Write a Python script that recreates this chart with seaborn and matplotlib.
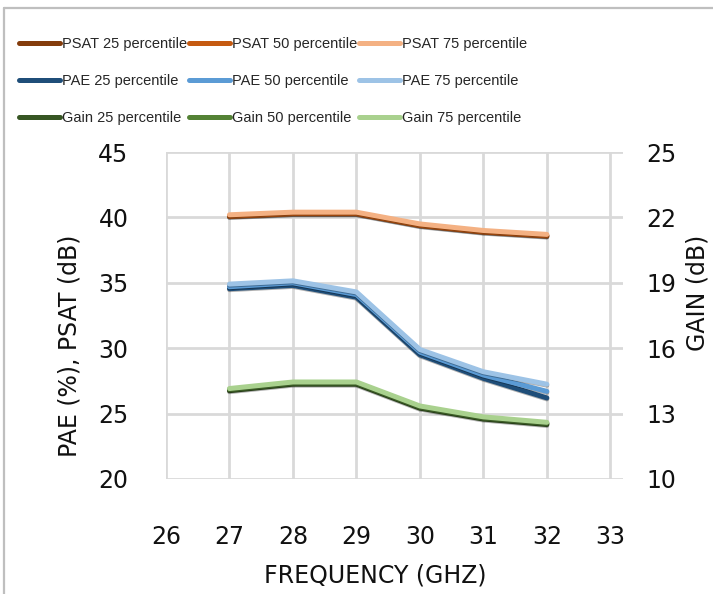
import matplotlib
matplotlib.use("Agg")
import matplotlib.pyplot as plt
import matplotlib.patheffects as pe
from matplotlib.lines import Line2D
import seaborn as sns
import pandas as pd

# Frequency points (GHz)
freq = [27, 28, 29, 30, 31, 32]

# Saturated output power (dB), left axis
psat_25 = [40.07, 40.27, 40.27, 39.37, 38.87, 38.57]
psat_50 = [40.1, 40.3, 40.3, 39.4, 38.9, 38.6]
psat_75 = [40.2, 40.4, 40.4, 39.5, 39.0, 38.7]

# Power-added efficiency (%), left axis
pae_25 = [34.55, 34.8, 33.9, 29.5, 27.7, 26.2]
pae_50 = [34.7, 35.0, 34.1, 29.7, 27.95, 26.7]
pae_75 = [34.9, 35.15, 34.3, 29.9, 28.2, 27.25]

# Gain (dB), right axis
gain_25 = [14.05, 14.35, 14.35, 13.25, 12.75, 12.5]
gain_50 = [14.1, 14.4, 14.4, 13.3, 12.8, 12.55]
gain_75 = [14.15, 14.45, 14.45, 13.35, 12.85, 12.6]

x_ticks = [26, 27, 28, 29, 30, 31, 32, 33]
left_ticks = [20, 25, 30, 35, 40, 45]
right_ticks = [10, 13, 16, 19, 22, 25]

sns.set_theme(style="white")
plt.rcParams["font.family"] = ["DejaVu Sans"]

fig = plt.figure(figsize=(7.13, 5.94), dpi=100)
ax = fig.add_axes([166 / 713, 1 - 479 / 594, (623 - 166) / 713, (479 - 152) / 594])
ax2 = ax.twinx()

series_left = [
    ("PSAT 25 percentile", psat_25, "#843C0C"),
    ("PSAT 50 percentile", psat_50, "#C55A11"),
    ("PSAT 75 percentile", psat_75, "#F4B183"),
    ("PAE 25 percentile", pae_25, "#1F4E79"),
    ("PAE 50 percentile", pae_50, "#5B9BD5"),
    ("PAE 75 percentile", pae_75, "#9DC3E6"),
]
series_right = [
    ("Gain 25 percentile", gain_25, "#375623"),
    ("Gain 50 percentile", gain_50, "#548235"),
    ("Gain 75 percentile", gain_75, "#A9D18E"),
]

effects = [pe.SimpleLineShadow(offset=(0, -0.7), shadow_color="black", alpha=0.3), pe.Normal()]
lw = 3.6

handles = {}
for name, vals, col in series_left:
    df = pd.DataFrame({"freq": freq, "val": vals})
    sns.lineplot(data=df, x="freq", y="val", ax=ax, color=col, lw=lw,
                 legend=False, solid_capstyle="round", zorder=3)
    ax.get_lines()[-1].set_path_effects(effects)
    handles[name] = Line2D([], [], color=col, lw=lw, solid_capstyle="round")
for name, vals, col in series_right:
    df = pd.DataFrame({"freq": freq, "val": vals})
    sns.lineplot(data=df, x="freq", y="val", ax=ax2, color=col, lw=lw,
                 legend=False, solid_capstyle="round", zorder=3)
    ax2.get_lines()[-1].set_path_effects(effects)
    handles[name] = Line2D([], [], color=col, lw=lw, solid_capstyle="round")

ax.set_xlim(26, 33.2)
ax.set_ylim(20, 45)
ax2.set_ylim(10, 25)
ax.set_xticks(x_ticks)
ax.set_yticks(left_ticks)
ax2.set_yticks(right_ticks)

grid_col = "#D9D9D9"
ax.grid(True, color=grid_col, lw=2)
ax2.grid(False)
ax.set_axisbelow(True)
for a in (ax, ax2):
    for s in a.spines.values():
        s.set_visible(False)
    a.tick_params(length=0)

ax.tick_params(axis="y", labelsize=17, pad=27, colors="#111111")
ax.tick_params(axis="x", labelsize=17, pad=33, colors="#111111")
ax2.tick_params(axis="y", labelsize=17, pad=17, colors="#111111")

ax.set_xlabel("FREQUENCY (GHZ)", fontsize=17, color="#111111")
ax.xaxis.set_label_coords((375 - 166) / (623 - 166), -(575 - 479) / (479 - 152), transform=ax.transAxes)
ax.xaxis.label.set_va("center")
ax.set_ylabel("PAE (%), PSAT (dB)", fontsize=17, color="#111111")
ax.yaxis.set_label_coords(-(166 - 69) / (623 - 166), (479 - 346) / (479 - 152))
ax.yaxis.label.set_va("center")
ax2.set_ylabel("GAIN (dB)", fontsize=17, color="#111111")
ax2.yaxis.set_label_coords(1 + (698 - 623) / (623 - 166), (479 - 293) / (479 - 152))
ax2.yaxis.label.set_va("center")

# Legend: three columns (25 / 50 / 75 percentile), one row per quantity
columns = [
    ["PSAT 25 percentile", "PAE 25 percentile", "Gain 25 percentile"],
    ["PSAT 50 percentile", "PAE 50 percentile", "Gain 50 percentile"],
    ["PSAT 75 percentile", "PAE 75 percentile", "Gain 75 percentile"],
]
col_x = [19, 189, 359]
for x0, names in zip(col_x, columns):
    fig.legend([handles[n] for n in names], names, loc="upper left",
               bbox_to_anchor=(x0 / 713, 1 - 37 / 594), frameon=False,
               prop={"family": ["Liberation Sans", "DejaVu Sans"], "size": 10.5},
               handlelength=2.8, handletextpad=0.15,
               labelspacing=1.57, borderaxespad=0, borderpad=0)

# Chart-area border
border = "#BFBFBF"
fig.add_artist(Line2D([4 / 713, 4 / 713], [0, 1 - 8 / 594], color=border, lw=1.6))
fig.add_artist(Line2D([4 / 713, 1], [1 - 8 / 594, 1 - 8 / 594], color=border, lw=1.6))

fig.savefig("out.png", dpi=100)
